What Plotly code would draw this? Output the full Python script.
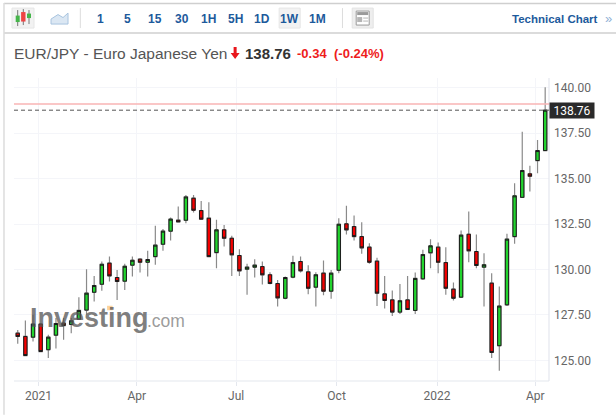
import pandas as pd
import plotly.graph_objects as go

# weekly candles
dates = pd.date_range("2020-12-13", periods=70, freq="7D")
opens = [126.50, 126.32, 126.28, 127.00, 125.59, 126.39, 127.05, 126.98, 127.27, 127.77,
         128.75, 129.19, 130.35, 129.56, 129.36, 130.24, 130.57, 130.40, 130.71, 131.39,
         132.11, 132.71, 132.71, 133.92, 133.24, 132.82, 130.93, 132.18, 131.72, 130.77,
         130.02, 130.13, 130.16, 129.71, 129.23, 128.42, 129.58, 130.44, 129.87, 129.03,
         129.80, 128.81, 129.96, 132.51, 132.36, 131.81, 131.23, 130.46, 128.66, 128.33,
         127.66, 128.33, 127.75, 129.49, 130.92, 131.23, 130.38, 128.92, 128.48, 131.94,
         130.99, 130.13, 129.25, 125.81, 128.06, 131.81, 133.97, 135.26, 135.99, 136.54]
highs = [126.68, 127.20, 127.51, 127.05, 126.41, 127.33, 127.33, 127.33, 128.48, 130.02,
         129.65, 130.44, 130.71, 129.98, 130.31, 130.71, 130.62, 131.03, 132.40, 132.23,
         132.86, 133.46, 134.10, 134.10, 133.77, 133.70, 132.73, 132.45, 131.85, 131.12,
         130.31, 130.57, 130.44, 129.85, 129.43, 129.62, 130.75, 130.71, 130.24, 129.85,
         130.49, 129.98, 132.82, 133.50, 132.97, 132.60, 131.45, 130.64, 129.65, 128.85,
         129.21, 129.65, 129.84, 131.08, 131.67, 131.48, 131.23, 129.29, 132.14, 133.19,
         131.92, 130.90, 129.80, 129.07, 131.96, 134.74, 137.58, 135.71, 137.12, 140.02]
lows = [125.92, 125.25, 126.04, 125.46, 125.13, 125.66, 126.14, 126.50, 127.23, 127.51,
        128.24, 128.83, 129.34, 128.33, 128.88, 129.62, 129.84, 129.62, 130.26, 131.03,
        131.59, 132.58, 132.55, 133.13, 132.73, 130.68, 130.07, 131.26, 129.65, 129.65,
        128.61, 129.56, 129.18, 129.19, 127.97, 128.37, 129.52, 129.84, 128.64, 127.97,
        128.59, 128.39, 129.80, 131.92, 131.59, 130.86, 130.31, 128.00, 127.86, 127.45,
        127.56, 127.78, 127.55, 129.43, 130.07, 129.80, 128.61, 128.30, 128.44, 130.40,
        130.07, 127.97, 125.13, 124.43, 128.00, 131.41, 133.95, 134.29, 135.29, 136.52]
closes = [126.32, 125.27, 127.00, 125.49, 126.28, 127.03, 126.92, 127.18, 127.75, 128.70,
          129.12, 130.29, 129.65, 129.34, 130.18, 130.51, 130.40, 130.55, 131.34, 132.11,
          132.77, 132.62, 133.99, 133.26, 132.77, 130.71, 132.18, 131.72, 130.81, 129.93,
          130.13, 130.24, 129.71, 129.23, 128.44, 129.56, 130.38, 129.93, 128.97, 129.71,
          128.81, 129.80, 132.49, 132.18, 131.81, 131.19, 130.40, 128.70, 128.30, 127.66,
          128.28, 127.80, 129.51, 130.82, 131.30, 130.40, 128.97, 128.42, 131.89, 131.03,
          130.22, 130.26, 125.44, 127.99, 131.67, 134.05, 135.44, 135.13, 136.54, 138.76]

y_ticks = [125, 127.5, 130, 132.5, 135, 137.5, 140]
x_ticks = ["2021-01-01", "2021-04-01", "2021-07-01", "2021-10-01", "2022-01-01", "2022-04-01"]
x_labels = ["2021", "Apr", "Jul", "Oct", "2022", "Apr"]
intervals = ["1", "5", "15", "30", "1H", "5H", "1D", "1W", "1M"]
interval_x = [100.5, 127.5, 155, 181.5, 208.5, 235, 262, 289, 317]
last_price = 138.76
prev_close = 139.10

W, H = 616, 415
L, R, T, B = 14, 548.7, 78, 381.3


# page pixels to paper coords, the toolbar and header sit outside the plot
def px(x):
    return (x - L) / (R - L)


def py(y):
    return (B - y) / (B - T)


def line(x0, y0, x1, y1, color, width=1, dash=None):
    return dict(type="line", xref="paper", yref="paper", x0=px(x0), y0=py(y0), x1=px(x1), y1=py(y1),
                line=dict(color=color, width=width, dash=dash))


def box(x0, y0, x1, y1, fill, color=None, width=0):
    return dict(type="rect", xref="paper", yref="paper", x0=px(x0), y0=py(y0), x1=px(x1), y1=py(y1),
                fillcolor=fill, line=dict(color=color or fill, width=width))


def poly(points, fill, color=None, width=0):
    path = "M " + " L ".join("%f %f" % (px(x), py(y)) for x, y in points) + " Z"
    return dict(type="path", xref="paper", yref="paper", path=path, fillcolor=fill,
                line=dict(color=color or fill, width=width))


def label(x, y, text, size, color, anchor="left", family="Liberation Sans"):
    return dict(xref="paper", yref="paper", x=px(x), y=py(y), text=text, showarrow=False,
                xanchor=anchor, yanchor="middle", font=dict(size=size, color=color, family=family))


fig = go.Figure()

# wicks
fig.add_trace(go.Candlestick(x=dates, open=opens, high=highs, low=lows, close=closes,
                             increasing=dict(line=dict(color="#8a8a8a", width=1.2), fillcolor="#8a8a8a"),
                             decreasing=dict(line=dict(color="#8a8a8a", width=1.2), fillcolor="#8a8a8a"),
                             hoverinfo="skip"))
# bodies, black outline over the gray wicks
fig.add_trace(go.Candlestick(x=dates, open=opens, close=closes,
                             high=[max(a, b) for a, b in zip(opens, closes)],
                             low=[min(a, b) for a, b in zip(opens, closes)],
                             increasing=dict(line=dict(color="#1a1a1a", width=1), fillcolor="#22d42e"),
                             decreasing=dict(line=dict(color="#1a1a1a", width=1), fillcolor="#f40000"),
                             hoverinfo="skip"))

shapes = [
    # frame
    line(4, 3.5, 616, 3.5, "#cfcfcf", 1.5),
    line(4, 33, 616, 33, "#cfcfcf", 1.5),
    line(4, 3, 4, 415, "#dcdcdc", 1.5),
    # toolbar
    box(12, 8, 34, 28, "#f2f2f2", "#e6e6e6", 1),
    line(17.7, 10, 17.7, 26, "#777777", 1), box(15.7, 15.5, 19.7, 22, "#45b54a", "#45b54a"),
    line(23.3, 9, 23.3, 25, "#777777", 1), box(21.1, 12, 25.5, 21.5, "#ee4444", "#ee4444"),
    line(29, 10, 29, 24, "#777777", 1), box(27, 13.5, 31, 18, "#45b54a", "#45b54a"),
    poly([(51, 24), (51, 19), (58, 14.5), (63, 17.5), (68, 13), (68, 24)], "#dbe7f3", "#a8c4df", 1),
    line(80.3, 8, 80.3, 28, "#dddddd", 1),
    line(342.3, 8, 342.3, 28, "#dddddd", 1),
    box(279, 8, 300, 28, "#f2f2f2", "#e6e6e6", 1),
    box(352, 8, 373, 28, "#eeeeee", "#e3e3e3", 1),
    box(356, 11, 369, 25, "#ffffff", "#9a9a9a", 1),
    box(357, 12, 368, 15, "#9a9a9a", "#9a9a9a"),
    box(357, 17, 362, 22, "#b5b5b5", "#b5b5b5"),
    line(363, 18, 368, 18, "#b5b5b5", 1), line(363, 21, 368, 21, "#b5b5b5", 1),
    # down arrow next to the price
    poly([(233.5, 47), (236.5, 47), (236.5, 53), (239.5, 53), (235, 59), (230.5, 53), (233.5, 53)], "#e8161c"),
    # axis frame of the plot
    line(L, B, R, B, "#e4e7ee", 1.2),
    line(R, T, R, B, "#e4e7ee", 1.2),
    # previous close and last price
    dict(type="line", xref="paper", yref="y", x0=0, x1=1, y0=prev_close, y1=prev_close,
         line=dict(color="#f9b4b4", width=1.6)),
    dict(type="line", xref="paper", yref="y", x0=0, x1=1, y0=last_price, y1=last_price,
         line=dict(color="#555555", width=1, dash="4px,3px")),
    # watermark dot
    box(107, 306, 112.5, 310.5, "rgba(252,205,140,0.85)"),
]

annotations = [label(x, 18.5, "<b>%s</b>" % t, 12, "#1d5a9c", "center") for x, t in zip(interval_x, intervals)]
annotations += [
    label(600, 18.5, "<b>Technical Chart</b>", 11.5, "#1d5a9c", "right"),
    label(603, 18, "»", 13, "#8fb2d6"),
    label(12, 53, "EUR/JPY - Euro Japanese Yen", 15.5, "#555555"),
    label(243, 53, "<b>138.76</b>", 15, "#333333"),
    label(295, 53, "<b>-0.34</b>", 13, "#ee1c1c"),
    label(332, 53, "<b>(-0.24%)</b>", 13, "#ee1c1c"),
    # watermark
    label(27.5, 318.5, "<b>Investing</b>", 27, "rgba(85,85,85,0.75)"),
    label(145, 321, ".com", 17.5, "rgba(130,130,130,0.8)"),
    # last price tag
    dict(xref="paper", yref="y", x=1.0, y=last_price, text="138.76", showarrow=False, xanchor="left",
         yanchor="middle", bgcolor="#2a2a2a", font=dict(size=12, color="#ffffff", family="Roboto"),
         width=44, height=15, borderpad=0),
]

fig.update_layout(
    width=W, height=H,
    margin=dict(l=L, r=W - R, t=T, b=H - B, pad=0),
    paper_bgcolor="#ffffff", plot_bgcolor="#ffffff",
    showlegend=False, boxmode="overlay", boxgap=0.38,
    shapes=shapes, annotations=annotations,
    xaxis=dict(type="date", range=["2020-12-09 14:00", "2022-04-13 12:00"], rangeslider=dict(visible=False),
               tickmode="array", tickvals=x_ticks, ticktext=x_labels, showgrid=True, gridcolor="#f4f5f9",
               gridwidth=1, zeroline=False, showline=False, ticks="outside", ticklen=4, tickcolor="#e4e7ee",
               tickfont=dict(family="Roboto", size=12, color="#666666")),
    yaxis=dict(side="right", range=[123.87, 140.53], tickmode="array", tickvals=y_ticks,
               ticktext=["%.2f" % v for v in y_ticks], showgrid=True, gridcolor="#f4f5f9", gridwidth=1,
               zeroline=False, showline=False, ticks="", ticklabelstandoff=4,
               tickfont=dict(family="Roboto", size=12, color="#666666")),
)

fig.write_html("out.html", config={"displayModeBar": False}, post_script="document.body.style.margin='0';")
